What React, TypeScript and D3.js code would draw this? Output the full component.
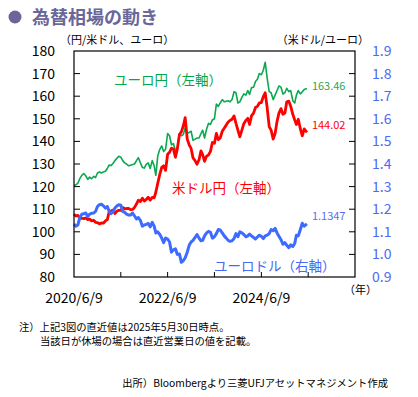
import React from 'react';
import * as d3 from 'd3';

// semi-monthly readings, 2020/6 .. 2025/5 (two per month)
const usdJpy = [
  107.8, 107.0, 107.3, 106.0, 106.0, 105.8, 106.1, 105.4, 105.6, 104.8, 105.1, 104.2, 104.1, 103.5,
  103.9, 103.8, 104.8, 105.4, 108.6, 109.2, 109.6, 108.1, 109.1, 109.5, 109.5, 110.8, 110.2, 110.3,
  110.3, 109.8, 109.9, 110.8, 112.3, 114.0, 113.4, 114.9, 113.6, 114.3,
  115.3, 114.0, 115.2, 115.0, 117.5, 121.5, 125.4, 128.5, 129.2, 127.2, 134.3, 135.2, 137.0, 136.6,
  133.0, 136.8, 143.0, 144.2, 146.8, 150.5, 141.0, 138.5, 136.9, 132.7,
  131.5, 129.9, 131.9, 135.8, 134.2, 131.2, 133.5, 134.0, 135.6, 139.5, 139.2, 143.5, 140.8, 141.5,
  144.5, 145.8, 147.2, 148.6, 149.3, 149.8, 151.3, 148.0, 145.0, 142.0,
  145.0, 147.8, 149.3, 150.2, 147.5, 151.3, 152.5, 155.0, 155.5, 157.0, 157.2, 159.8, 161.5, 155.0,
  146.5, 145.0, 141.0, 143.5, 148.8, 152.5, 154.5, 152.0, 152.5, 157.5,
  157.8, 155.5, 152.0, 149.5, 147.5, 149.8, 145.5, 142.5, 145.5, 144.02,
];

const eurJpy = [
  120.5, 120.8, 121.5, 123.5, 125.0, 125.8, 124.8, 123.2, 124.2, 123.5, 124.5, 124.0, 126.0, 126.5,
  126.0, 126.5, 126.8, 128.0, 129.5, 129.3, 130.2, 131.5, 132.5, 133.4, 133.0, 131.5, 130.5, 130.0,
  129.2, 129.5, 129.8, 130.0, 131.5, 132.8, 130.5, 128.5, 128.2, 129.8,
  130.5, 128.0, 131.5, 129.2, 125.0, 133.5, 136.5, 138.0, 135.5, 136.5, 143.5, 142.5, 138.5, 139.0,
  136.0, 137.0, 143.5, 142.5, 143.0, 146.0, 143.5, 144.0, 144.5, 140.5,
  141.0, 141.5, 141.5, 143.5, 145.0, 141.5, 145.5, 148.0, 147.5, 149.5, 150.0, 156.5, 155.5, 157.0,
  158.5, 157.5, 157.8, 158.0, 157.5, 158.5, 162.0, 161.5, 157.0, 157.5,
  159.5, 161.0, 160.5, 162.5, 160.8, 163.8, 164.0, 166.5, 167.5, 170.0, 169.5, 171.5, 175.0, 168.0,
  162.0, 161.5, 158.5, 160.5, 162.5, 164.5, 164.0, 161.0, 161.5, 163.5,
  162.0, 162.5, 158.0, 157.0, 160.5, 162.5, 161.0, 162.0, 163.0, 163.46,
];

const eurUsd = [
  1.134, 1.125, 1.130, 1.163, 1.178, 1.180, 1.183, 1.167, 1.178, 1.182, 1.183, 1.190, 1.212, 1.220,
  1.222, 1.215, 1.205, 1.212, 1.192, 1.180, 1.188, 1.205, 1.214, 1.220, 1.218, 1.190, 1.186, 1.178,
  1.174, 1.174, 1.183, 1.170, 1.157, 1.163, 1.150, 1.125, 1.130, 1.133,
  1.137, 1.122, 1.142, 1.125, 1.095, 1.100, 1.088, 1.072, 1.052, 1.072, 1.068, 1.055, 1.010, 1.020,
  1.025, 1.000, 1.002, 0.965, 0.972, 0.985, 1.010, 1.040, 1.055, 1.062,
  1.075, 1.088, 1.072, 1.060, 1.062, 1.082, 1.095, 1.102, 1.098, 1.072, 1.078, 1.092, 1.110, 1.108,
  1.095, 1.082, 1.072, 1.062, 1.058, 1.060, 1.070, 1.092, 1.078, 1.100,
  1.095, 1.088, 1.078, 1.082, 1.090, 1.082, 1.075, 1.068, 1.077, 1.085, 1.080, 1.070, 1.082, 1.085,
  1.092, 1.110, 1.105, 1.115, 1.095, 1.080, 1.065, 1.045, 1.052, 1.040,
  1.030, 1.042, 1.035, 1.048, 1.085, 1.082, 1.110, 1.138, 1.125, 1.1347,
];

const leftTicks = [80, 90, 100, 110, 120, 130, 140, 150, 160, 170, 180];
const rightTicks = [0.9, 1.0, 1.1, 1.2, 1.3, 1.4, 1.5, 1.6, 1.7, 1.8, 1.9];
const xLabels = ['2020/6/9', '2022/6/9', '2024/6/9'];
const latest = { eurJpy: '163.46', usdJpy: '144.02', eurUsd: '1.1347' };

const start = new Date(2020, 5, 9);
const end = new Date(2026, 5, 9);
const lastDate = new Date(2025, 4, 30);

const dates = usdJpy.map((_, i) => {
  if (i === usdJpy.length - 1) return lastDate;
  const m = d3.timeMonth.offset(new Date(2020, 5, 1), Math.floor(i / 2));
  return new Date(m.getFullYear(), m.getMonth(), i % 2 === 0 ? 9 : 24);
});

const margin = { top: 51, right: 63, bottom: 120, left: 74 };
const W = 418, H = 397;

const green = '#0aa84f', red = '#ff0000', blue = '#3d6bff';
const font = '"Noto Sans CJK JP", "Noto Sans", sans-serif';

export default function App() {
  const x = d3.scaleTime().domain([start, end]).range([margin.left, W - margin.right]);
  const yL = d3.scaleLinear().domain([80, 180]).range([H - margin.bottom, margin.top]);
  const yR = d3.scaleLinear().domain([0.9, 1.9]).range([H - margin.bottom, margin.top]);
  const x0 = margin.left, x1 = W - margin.right, y0 = margin.top, y1 = H - margin.bottom;

  const lineL = d3.line<number>().x((_, i) => x(dates[i])).y(d => yL(d));
  const lineR = d3.line<number>().x((_, i) => x(dates[i])).y(d => yR(d));
  const yearTicks = d3.range(1, 6).map(k => d3.timeYear.offset(start, k));
  const lastX = x(lastDate);

  return (
    <svg width={W} height={H} style={{ position: 'absolute', left: 0, top: 0, background: '#fff' }} fontFamily={font}>
      {/* title */}
      <circle cx={15} cy={17} r={6.5} fill="#6b6699" />
      <text x={32} y={23.5} fontSize={18} fontWeight="bold" fill="#6b6699">為替相場の動き</text>

      <text x={60} y={44} fontSize={11} fill="#000">（円/米ドル、ユーロ）</text>
      <text x={369} y={44} fontSize={11} fill="#000" textAnchor="end">（米ドル/ユーロ）</text>

      {/* lines */}
      <path d={lineL(eurJpy) || ''} fill="none" stroke={green} strokeWidth={1.6} strokeLinejoin="round" />
      <path d={lineL(usdJpy) || ''} fill="none" stroke={red} strokeWidth={2.8} strokeLinejoin="round" />
      <path d={lineR(eurUsd) || ''} fill="none" stroke={blue} strokeWidth={3} strokeLinejoin="round" />

      {/* frame and ticks */}
      <rect x={x0} y={y0} width={x1 - x0} height={y1 - y0} fill="none" stroke="#000" strokeWidth={1.2} />
      {leftTicks.slice(1, -1).map(t => (
        <line key={'l' + t} x1={x0} x2={x0 + 6} y1={yL(t)} y2={yL(t)} stroke="#000" />
      ))}
      {rightTicks.slice(1, -1).map(t => (
        <line key={'r' + t} x1={x1 - 6} x2={x1} y1={yR(t)} y2={yR(t)} stroke="#000" />
      ))}
      {yearTicks.map((d, i) => (
        <line key={'x' + i} x1={x(d)} x2={x(d)} y1={y1} y2={y1 - 5} stroke="#000" />
      ))}

      {leftTicks.map(t => (
        <text key={'lt' + t} x={55} y={yL(t) + 5} fontSize={14} textAnchor="end" fill="#000">{t}</text>
      ))}
      {rightTicks.map(t => (
        <text key={'rt' + t} x={372} y={yR(t) + 5} fontSize={14} fill="#4d6af5">{t.toFixed(1)}</text>
      ))}
      {xLabels.map((l, i) => (
        <text key={l} x={x(d3.timeYear.offset(start, i * 2))} y={303} fontSize={14} textAnchor="middle" fill="#000">{l}</text>
      ))}
      <text x={344} y={294} fontSize={11} fill="#000">（年）</text>

      {/* series labels */}
      <text x={114} y={85} fontSize={13.5} fill="#00a84a">ユーロ円（左軸）</text>
      <text x={172} y={193} fontSize={13.5} fill={red}>米ドル円（左軸）</text>
      <text x={214} y={271} fontSize={13.5} fill="#4767f5">ユーロドル（右軸）</text>

      <text x={lastX + 5} y={yL(163.46) + 2} fontSize={11} fill="#2fa450">{latest.eurJpy}</text>
      <text x={lastX + 5} y={yL(144.02) - 3} fontSize={11} fill={red}>{latest.usdJpy}</text>
      <text x={lastX + 5} y={yR(1.1347) - 4} fontSize={11} fill="#5a6ef0">{latest.eurUsd}</text>

      {/* notes */}
      <text x={19} y={331} fontSize={10.3} fill="#000">注）上記3図の直近値は2025年5月30日時点。</text>
      <text x={40} y={345} fontSize={10.3} fill="#000">当該日が休場の場合は直近営業日の値を記載。</text>
      <text x={388} y={387} fontSize={10.3} fill="#000" textAnchor="end">出所）Bloombergより三菱UFJアセットマネジメント作成</text>
    </svg>
  );
}
